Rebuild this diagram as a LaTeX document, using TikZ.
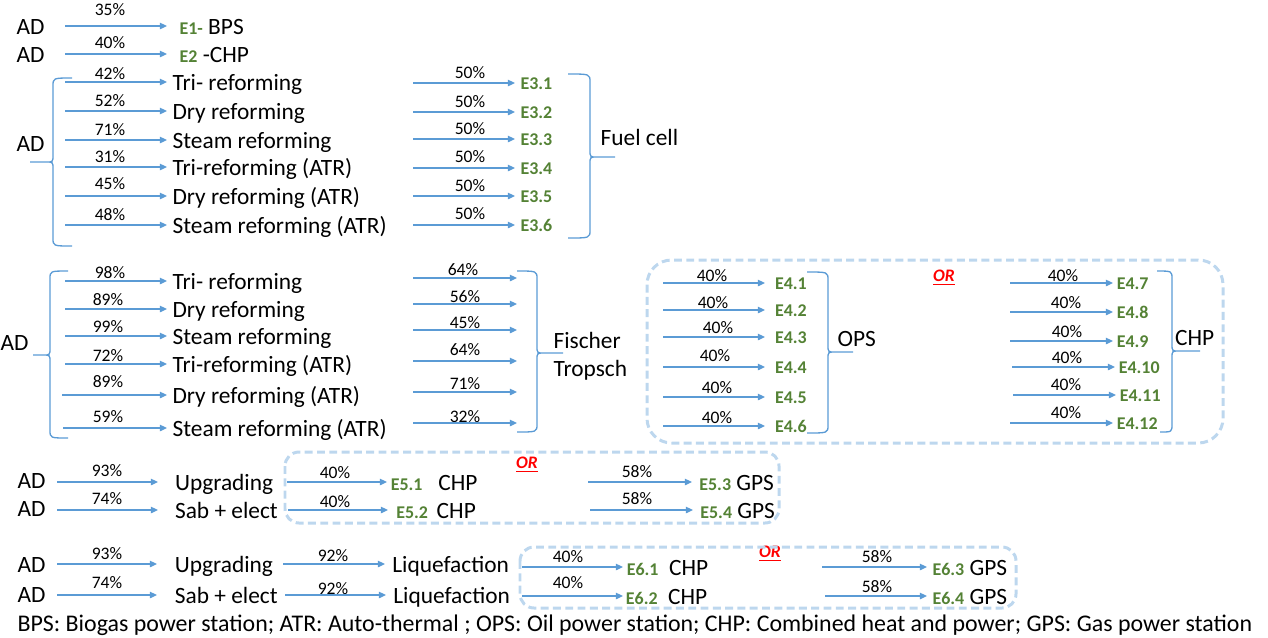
\documentclass[tikz,border=0pt]{standalone}
\usepackage{fontspec}
\setmainfont{Carlito}
\usetikzlibrary{arrows.meta}
\definecolor{arrblue}{RGB}{91,155,213}
\definecolor{egreen}{RGB}{84,130,53}
\definecolor{boxblue}{RGB}{189,215,238}
\definecolor{ored}{RGB}{255,0,0}
\newcommand{\egr}[1]{{\fontsize{10.2}{12}\selectfont\bfseries\color{egreen}#1}}

\begin{document}
\begin{tikzpicture}[x=0.02cm, y=-0.02cm]

    \tikzset{txt/.style={anchor=west, inner xsep=3pt, inner ysep=0pt, text height=9.2pt, text depth=0pt, font=\fontsize{13.3}{15}\selectfont}}
    \tikzset{elab/.style={txt, text height=7pt, font=\fontsize{10.2}{12}\selectfont\bfseries, text=egreen}}
    \tikzset{pct/.style={inner sep=0pt, font=\fontsize{10}{12}\selectfont}}
    \tikzset{ortext/.style={inner sep=0pt, text=ored, font=\fontsize{10}{12}\selectfont\bfseries\itshape}}
    \tikzset{arr/.style={draw=arrblue, line width=0.75pt, -{Triangle[length=4pt,width=3.6pt]}}}
    \tikzset{brace/.style={draw=arrblue, line width=0.75pt}}
    \tikzset{orbox/.style={draw=boxblue, line width=1.7pt, dash pattern=on 4.5pt off 2.5pt}}

    \useasboundingbox (0,0) rectangle (1268,637);

    % E1 et E2
    \node[txt] (ad1) at (11,26) {AD};
    \node[txt] (ad2) at (11,54) {AD};
    \node[txt, inner xsep=7pt] (t1) at (167,26) {\egr{E1-} BPS};
    \node[txt, inner xsep=7pt] (t2) at (167,54) {\egr{E2} -CHP};
    \node[pct] (q1) at (110,10) {35\%};
    \node[pct] (q2) at (110,43) {40\%};
    \coordinate (s1) at (65,26);
    \coordinate (s2) at (65,54);

    % Fuel cell
    \node[txt] (ad3) at (11,143) {AD};
    \node[txt] (r31) at (167,82) {Tri- reforming};
    \node[txt] (r32) at (167,111) {Dry reforming};
    \node[txt] (r33) at (167,140) {Steam reforming};
    \node[txt] (r34) at (167,167) {Tri-reforming (ATR)};
    \node[txt] (r35) at (167,196) {Dry reforming (ATR)};
    \node[txt] (r36) at (167,225) {Steam reforming (ATR)};
    \node[pct] (q31) at (110,74) {42\%};
    \node[pct] (q32) at (110,101) {52\%};
    \node[pct] (q33) at (110,130) {71\%};
    \node[pct] (q34) at (110,157) {31\%};
    \node[pct] (q35) at (110,184) {45\%};
    \node[pct] (q36) at (110,215) {48\%};
    \node[elab] (e31) at (515,83) {E3.1};
    \node[elab] (e32) at (515,112) {E3.2};
    \node[elab] (e33) at (515,139) {E3.3};
    \node[elab] (e34) at (515,168) {E3.4};
    \node[elab] (e35) at (515,196) {E3.5};
    \node[elab] (e36) at (515,225) {E3.6};
    \node[pct] (p31) at (470,73) {50\%};
    \node[pct] (p32) at (470,102) {50\%};
    \node[pct] (p33) at (470,129) {50\%};
    \node[pct] (p34) at (470,157) {50\%};
    \node[pct] (p35) at (470,186) {50\%};
    \node[pct] (p36) at (470,214) {50\%};
    \node[txt] (fc) at (595,137) {Fuel cell};
    \coordinate (s31) at (65,82);
    \coordinate (s32) at (65,111);
    \coordinate (s33) at (65,140);
    \coordinate (s34) at (65,167);
    \coordinate (s35) at (65,196);
    \coordinate (s36) at (65,225);
    \coordinate (u31) at (413,83);
    \coordinate (u32) at (413,112);
    \coordinate (u33) at (413,139);
    \coordinate (u34) at (413,168);
    \coordinate (u35) at (413,196);
    \coordinate (u36) at (413,225);

    % Fischer Tropsch
    \node[txt] (ad4) at (-5,342) {AD};
    \node[txt] (r41) at (167,281) {Tri- reforming};
    \node[txt] (r42) at (167,309) {Dry reforming};
    \node[txt] (r43) at (167,336) {Steam reforming};
    \node[txt] (r44) at (167,364) {Tri-reforming (ATR)};
    \node[txt] (r45) at (167,395) {Dry reforming (ATR)};
    \node[txt] (r46) at (167,428) {Steam reforming (ATR)};
    \node[pct] (q41) at (110,273) {98\%};
    \node[pct] (q42) at (108,300) {89\%};
    \node[pct] (q43) at (108,327) {99\%};
    \node[pct] (q44) at (108,356) {72\%};
    \node[pct] (q45) at (108,382) {89\%};
    \node[pct] (q46) at (108,417) {59\%};
    \node[pct] (p41) at (463,270) {64\%};
    \node[pct] (p42) at (465,297) {56\%};
    \node[pct] (p43) at (465,323) {45\%};
    \node[pct] (p44) at (465,350) {64\%};
    \node[pct] (p45) at (465,384) {71\%};
    \node[pct] (p46) at (465,417) {32\%};
    \node[txt] (ft1) at (548,340) {Fischer};
    \node[txt] (ft2) at (548,368) {Tropsch};
    \coordinate (s41) at (65,281);
    \coordinate (s42) at (65,309);
    \coordinate (s43) at (65,336);
    \coordinate (s44) at (65,364);
    \coordinate (s45) at (62,395);
    \coordinate (s46) at (63,428);
    \coordinate (u41) at (413,278);
    \coordinate (u42) at (413,304);
    \coordinate (u43) at (413,330);
    \coordinate (u44) at (413,361);
    \coordinate (u45) at (413,392);
    \coordinate (u46) at (413,423);
    \coordinate (v41) at (517,278);
    \coordinate (v42) at (517,304);
    \coordinate (v43) at (517,330);
    \coordinate (v44) at (517,361);
    \coordinate (v45) at (517,392);
    \coordinate (v46) at (517,423);

    % OPS ou CHP
    \node[elab, inner xsep=5.5pt] (e41) at (765,283) {E4.1};
    \node[elab, inner xsep=5.5pt] (e42) at (765,310) {E4.2};
    \node[elab, inner xsep=5.5pt] (e43) at (765,337) {E4.3};
    \node[elab, inner xsep=5.5pt] (e44) at (765,367) {E4.4};
    \node[elab, inner xsep=5.5pt] (e45) at (765,397) {E4.5};
    \node[elab, inner xsep=5.5pt] (e46) at (765,426) {E4.6};
    \node[pct] (p51) at (712,276) {40\%};
    \node[pct] (p52) at (713,303) {40\%};
    \node[pct] (p53) at (718,328) {40\%};
    \node[pct] (p54) at (715,356) {40\%};
    \node[pct] (p55) at (717,388) {40\%};
    \node[pct] (p56) at (717,418) {40\%};
    \node[txt] (ops) at (832,338) {OPS};
    \node[ortext] (or4) at (944,278) {\underline{OR}};
    \node[elab, inner xsep=2pt] (e47) at (1113,283) {E4.7};
    \node[elab, inner xsep=2pt] (e48) at (1113,312) {E4.8};
    \node[elab, inner xsep=2pt] (e49) at (1113,341) {E4.9};
    \node[elab, inner xsep=2pt] (e410) at (1115,367) {E4.10};
    \node[elab, inner xsep=2pt] (e411) at (1116,395) {E4.11};
    \node[elab, inner xsep=2pt] (e412) at (1113,423) {E4.12};
    \node[pct] (p57) at (1063,276) {40\%};
    \node[pct] (p58) at (1066,303) {40\%};
    \node[pct] (p59) at (1067,332) {40\%};
    \node[pct] (p510) at (1067,358) {40\%};
    \node[pct] (p511) at (1066,385) {40\%};
    \node[pct] (p512) at (1066,413) {40\%};
    \node[txt, inner xsep=1pt] (chp4) at (1173,337) {CHP};
    \coordinate (w41) at (663,283);
    \coordinate (w42) at (663,310);
    \coordinate (w43) at (663,337);
    \coordinate (w44) at (663,367);
    \coordinate (w45) at (663,397);
    \coordinate (w46) at (663,426);
    \coordinate (w47) at (1010,283);
    \coordinate (w48) at (1010,312);
    \coordinate (w49) at (1010,341);
    \coordinate (w410) at (1012,367);
    \coordinate (w411) at (1013,395);
    \coordinate (w412) at (1010,423);

    % Upgrading -> CHP ou GPS
    \node[txt] (ad5a) at (12,480) {AD};
    \node[txt] (ad5b) at (12,508) {AD};
    \node[txt, inner xsep=9.5pt] (up5) at (158,482) {Upgrading};
    \node[txt, inner xsep=9.5pt] (sab5) at (158,510) {Sab + elect};
    \node[pct] (q51) at (107,471) {93\%};
    \node[pct] (q52) at (107,499) {74\%};
    \node[txt, inner xsep=2pt] (e51) at (387,482) {\egr{E5.1}\hspace{9pt}CHP};
    \node[txt, inner xsep=4.5pt] (e52) at (388,510) {\egr{E5.2}\hspace{5pt}CHP};
    \node[pct] (p61) at (335,473) {40\%};
    \node[pct] (p62) at (335,502) {40\%};
    \node[ortext] (or5) at (527,465) {\underline{OR}};
    \node[txt, inner xsep=4pt] (e53) at (692,482) {\egr{E5.3} GPS};
    \node[txt, inner xsep=4pt] (e54) at (693,510) {\egr{E5.4} GPS};
    \node[pct] (p63) at (637,472) {58\%};
    \node[pct] (p64) at (637,499) {58\%};
    \coordinate (s51) at (57,482);
    \coordinate (s52) at (57,510);
    \coordinate (u51) at (287,482);
    \coordinate (u52) at (288,510);
    \coordinate (u53) at (588,482);
    \coordinate (u54) at (590,510);

    % Liquefaction -> CHP ou GPS
    \node[txt] (ad6a) at (12,564) {AD};
    \node[txt] (ad6b) at (12,594) {AD};
    \node[txt, inner xsep=10pt] (up6) at (157,564) {Upgrading};
    \node[txt, inner xsep=10pt] (sab6) at (157,595) {Sab + elect};
    \node[pct] (q61) at (107,554) {93\%};
    \node[pct] (q62) at (107,583) {74\%};
    \node[txt, inner xsep=4pt] (lq1) at (385,564) {Liquefaction};
    \node[txt, inner xsep=4pt] (lq2) at (386,595) {Liquefaction};
    \node[pct] (q63) at (333,556) {92\%};
    \node[pct] (q64) at (333,589) {92\%};
    \node[txt, inner xsep=2pt] (e61) at (623,567) {\egr{E6.1}\hspace{6pt}CHP};
    \node[txt, inner xsep=1.5pt] (e62) at (623,596) {\egr{E6.2}\hspace{6pt}CHP};
    \node[pct] (p71) at (568,557) {40\%};
    \node[pct] (p72) at (568,583) {40\%};
    \node[ortext] (or6) at (770,554) {\underline{OR}};
    \node[txt, inner xsep=3pt] (e63) at (927,567) {\egr{E6.3} GPS};
    \node[txt, inner xsep=3pt] (e64) at (927,596) {\egr{E6.4} GPS};
    \node[pct] (p73) at (877,557) {58\%};
    \node[pct] (p74) at (877,587) {58\%};
    \coordinate (s61) at (57,564);
    \coordinate (s62) at (57,595);
    \coordinate (u61) at (283,564);
    \coordinate (u62) at (285,595);
    \coordinate (u63) at (522,567);
    \coordinate (u64) at (522,596);
    \coordinate (u65) at (822,567);
    \coordinate (u66) at (825,596);

    \node[txt, font=\fontsize{13.6}{15}\selectfont] (foot) at (12,623) {BPS: Biogas power station; ATR: Auto-thermal ; OPS: Oil power station; CHP: Combined heat and power; GPS: Gas power station};

    \begin{scope}[arr]
        \draw (s1) -- (t1.west);
        \draw (s2) -- (t2.west);

        \draw (s31) -- (r31.west);
        \draw (s32) -- (r32.west);
        \draw (s33) -- (r33.west);
        \draw (s34) -- (r34.west);
        \draw (s35) -- (r35.west);
        \draw (s36) -- (r36.west);
        \draw (u31) -- (e31.west);
        \draw (u32) -- (e32.west);
        \draw (u33) -- (e33.west);
        \draw (u34) -- (e34.west);
        \draw (u35) -- (e35.west);
        \draw (u36) -- (e36.west);

        \draw (s41) -- (r41.west);
        \draw (s42) -- (r42.west);
        \draw (s43) -- (r43.west);
        \draw (s44) -- (r44.west);
        \draw (s45) -- (r45.west);
        \draw (s46) -- (r46.west);
        \draw (u41) -- (v41);
        \draw (u42) -- (v42);
        \draw (u43) -- (v43);
        \draw (u44) -- (v44);
        \draw (u45) -- (v45);
        \draw (u46) -- (v46);

        \draw (w41) -- (e41.west);
        \draw (w42) -- (e42.west);
        \draw (w43) -- (e43.west);
        \draw (w44) -- (e44.west);
        \draw (w45) -- (e45.west);
        \draw (w46) -- (e46.west);
        \draw (w47) -- (e47.west);
        \draw (w48) -- (e48.west);
        \draw (w49) -- (e49.west);
        \draw (w410) -- (e410.west);
        \draw (w411) -- (e411.west);
        \draw (w412) -- (e412.west);

        \draw (s51) -- (up5.west);
        \draw (s52) -- (sab5.west);
        \draw (u51) -- (e51.west);
        \draw (u52) -- (e52.west);
        \draw (u53) -- (e53.west);
        \draw (u54) -- (e54.west);

        \draw (s61) -- (up6.west);
        \draw (s62) -- (sab6.west);
        \draw (u61) -- (lq1.west);
        \draw (u62) -- (lq2.west);
        \draw (u63) -- (e61.west);
        \draw (u64) -- (e62.west);
        \draw (u65) -- (e63.west);
        \draw (u66) -- (e64.west);
    \end{scope}

    % Accolades
    \draw[brace] (72,78) .. controls (53,78) .. (53,86) -- (53,155) .. controls (53,162) .. (46,162) -- (30,162)
                 (46,162) .. controls (53,162) .. (53,169) -- (53,238) .. controls (53,246) .. (72,246);
    \draw[brace] (568,74) .. controls (590,74) .. (590,82) -- (590,150) .. controls (590,157) .. (597,157) -- (615,157)
                 (597,157) .. controls (590,157) .. (590,164) -- (590,230) .. controls (590,238) .. (568,238);
    \draw[brace] (68,271) .. controls (50,271) .. (50,279) -- (50,348) .. controls (50,355) .. (43,355) -- (33,355)
                 (43,355) .. controls (50,355) .. (50,362) -- (50,430) .. controls (50,438) .. (68,438);
    \draw[brace] (517,271) .. controls (537,271) .. (537,279) -- (537,346) .. controls (537,353) .. (544,353) -- (563,353)
                 (544,353) .. controls (537,353) .. (537,360) -- (537,424) .. controls (537,432) .. (517,432);
    \draw[brace] (807,272) .. controls (828,272) .. (828,280) -- (828,345) .. controls (828,352) .. (835,352) -- (853,352)
                 (835,352) .. controls (828,352) .. (828,359) -- (828,425) .. controls (828,433) .. (807,433);
    \draw[brace] (1157,271) .. controls (1172,271) .. (1172,279) -- (1172,344) .. controls (1172,351) .. (1179,351) -- (1200,351)
                 (1179,351) .. controls (1172,351) .. (1172,358) -- (1172,424) .. controls (1172,432) .. (1160,432);

    % Cadres OR
    \draw[orbox, rounded corners=14pt] (647,260) rectangle (1223,443);
    \draw[orbox, rounded corners=8pt] (285,452) rectangle (779,523);
    \draw[orbox, rounded corners=8pt] (520,547) rectangle (1016,608);

\end{tikzpicture}
\end{document}
